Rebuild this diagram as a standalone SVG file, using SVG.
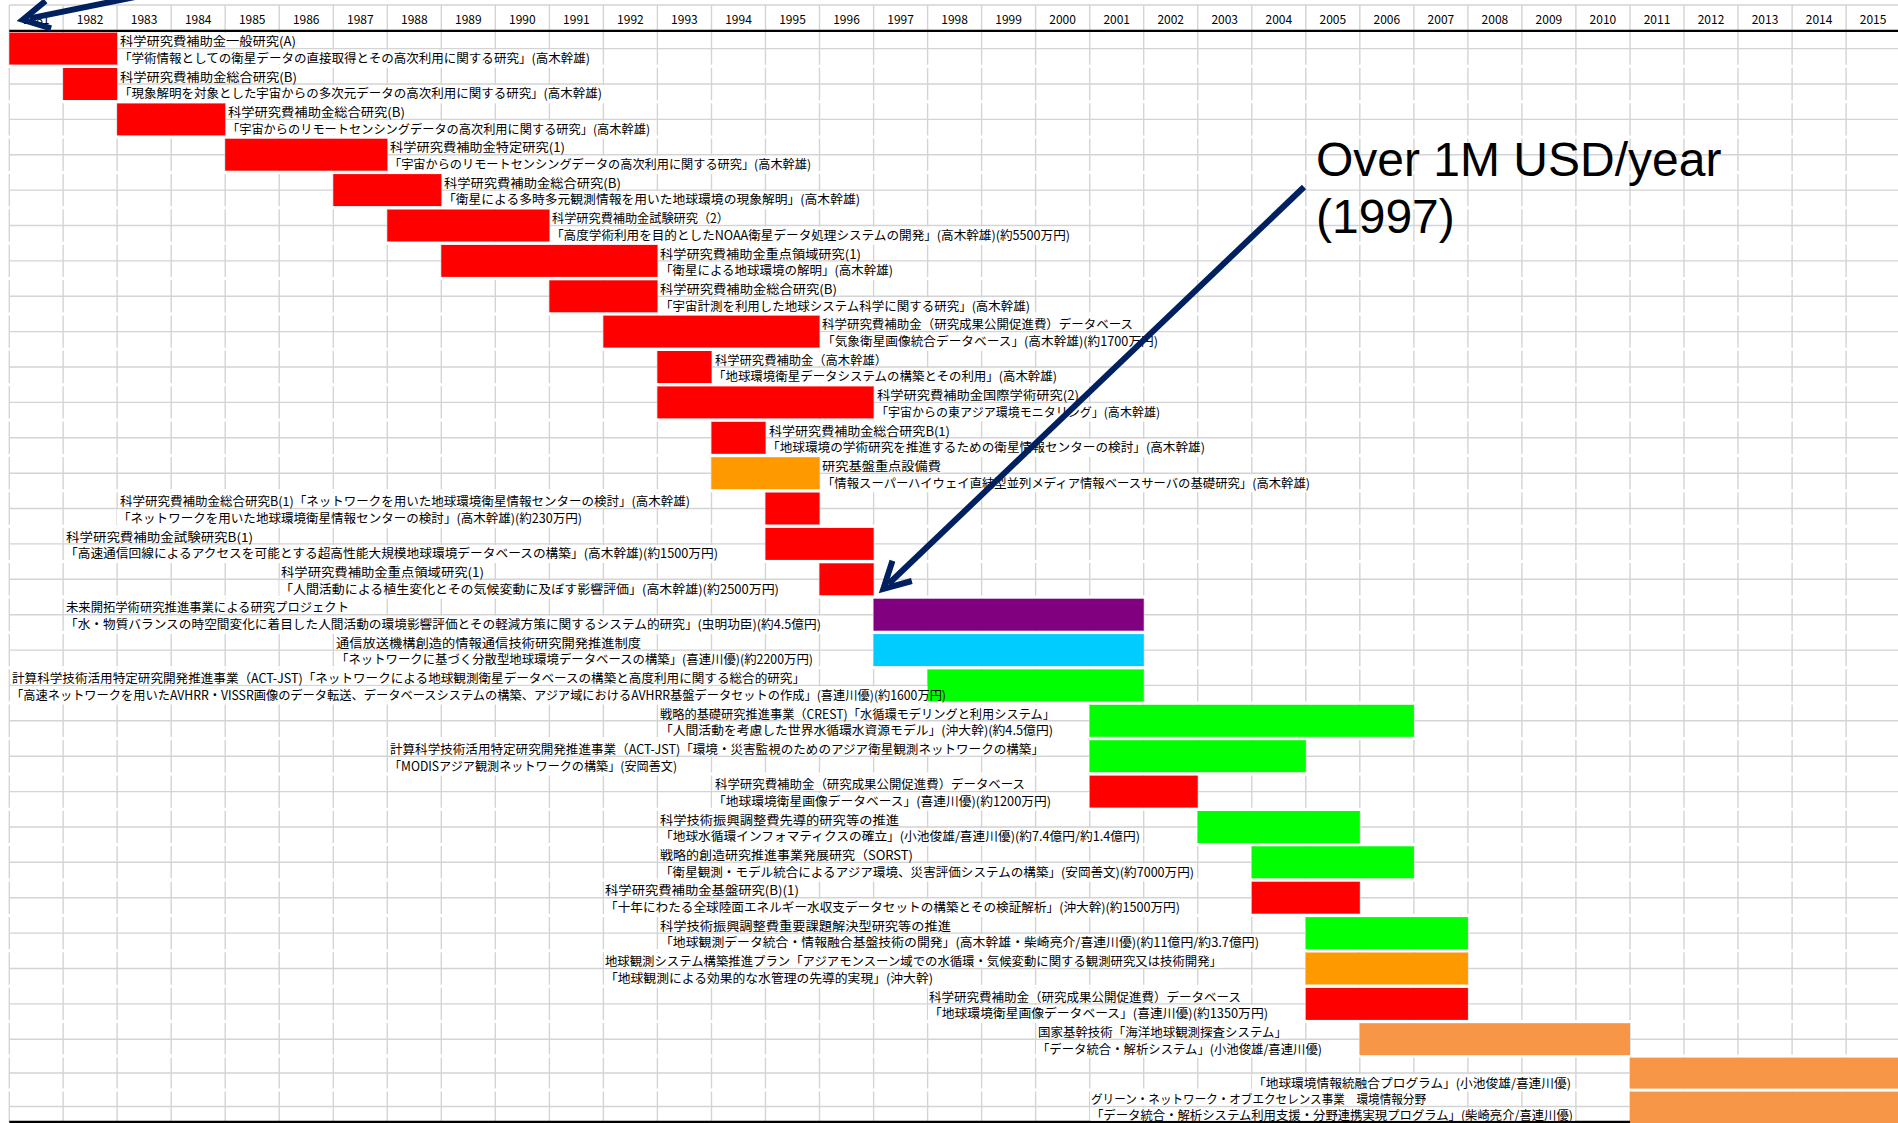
<svg xmlns="http://www.w3.org/2000/svg" width="1898" height="1123" viewBox="0 0 1898 1123">
  <defs>
    <style>
      .grid { stroke: #d4d4d4; stroke-width: 1.4; fill: none; }
      .gap { stroke: #ffffff; stroke-width: 3; fill: none; }
      .rule { stroke: #000000; stroke-width: 2.4; fill: none; }
      .yr { font-family: "Noto Sans CJK JP", "Noto Sans", sans-serif; font-size: 12px; text-anchor: middle; fill: #000; }
      .t { font-family: "Noto Sans CJK JP", "Noto Sans", sans-serif; font-size: 12.5px; fill: #000; }
      .bg { fill: #ffffff; }
      .red { fill: #ff0000; }
      .org { fill: #ff9900; }
      .grn { fill: #00ff00; }
      .pur { fill: #800080; }
      .cyn { fill: #00ccff; }
      .lor { fill: #f79646; }
      .note { font-family: "Liberation Sans", Arial, sans-serif; font-size: 48px; fill: #000; }
      .arrow { stroke: #002060; stroke-width: 6; fill: none; marker-end: url(#head); }
    </style>
    <marker id="head" viewBox="0 0 34 30" refX="23" refY="15" markerWidth="34" markerHeight="30" markerUnits="userSpaceOnUse" orient="auto" overflow="visible">
      <path d="M4,1 L30,15 L4,29" fill="none" stroke="#002060" stroke-width="6" stroke-linejoin="miter"/>
    </marker>
  </defs>

  <rect width="1898" height="1123" fill="#ffffff"/>

  <!-- spreadsheet grid -->
  <g id="grid">
    <path class="grid" d="M9.3 5V1122 M63.1 5V1122 M117.1 5V1122 M171.2 5V1122 M225.2 5V1122 M279.2 5V1122 M333.3 5V1122 M387.3 5V1122 M441.3 5V1122 M495.3 5V1122 M549.4 5V1122 M603.4 5V1122 M657.4 5V1122 M711.5 5V1122 M765.5 5V1122 M819.5 5V1122 M873.6 5V1122 M927.6 5V1122 M981.6 5V1122 M1035.6 5V1122 M1089.7 5V1122 M1143.7 5V1122 M1197.7 5V1122 M1251.8 5V1122 M1305.8 5V1122 M1359.8 5V1122 M1413.9 5V1122 M1467.9 5V1122 M1521.9 5V1122 M1575.9 5V1122 M1630 5V1122 M1684 5V1122 M1738 5V1122 M1792.1 5V1122 M1846.1 5V1122"/>
    <path class="grid" d="M9.3 5H1898 M9.3 48.6H1898 M9.3 84H1898 M9.3 119.4H1898 M9.3 154.7H1898 M9.3 190.1H1898 M9.3 225.5H1898 M9.3 260.9H1898 M9.3 296.3H1898 M9.3 331.6H1898 M9.3 367H1898 M9.3 402.4H1898 M9.3 437.8H1898 M9.3 473.2H1898 M9.3 508.5H1898 M9.3 543.9H1898 M9.3 579.3H1898 M9.3 614.7H1898 M9.3 650.1H1898 M9.3 685.4H1898 M9.3 720.8H1898 M9.3 756.2H1898 M9.3 791.6H1898 M9.3 827H1898 M9.3 862.3H1898 M9.3 897.7H1898 M9.3 933.1H1898 M9.3 968.5H1898 M9.3 1003.9H1898 M9.3 1039.2H1898 M9.3 1073H1898 M9.3 1106.5H1898"/>
    <path class="gap" d="M8 66.3H1898 M8 101.7H1898 M8 137H1898 M8 172.4H1898 M8 207.8H1898 M8 243.2H1898 M8 278.6H1898 M8 313.9H1898 M8 349.3H1898 M8 384.7H1898 M8 420.1H1898 M8 455.5H1898 M8 490.8H1898 M8 526.2H1898 M8 561.6H1898 M8 597H1898 M8 632.4H1898 M8 667.7H1898 M8 703.1H1898 M8 738.5H1898 M8 773.9H1898 M8 809.3H1898 M8 844.6H1898 M8 880H1898 M8 915.4H1898 M8 950.8H1898 M8 986.2H1898 M8 1021.5H1898 M8 1056H1898 M8 1090H1898"/>
    <path class="rule" d="M9.3 30.9H1898 M9.3 1122H1898"/>
  </g>

  <!-- year header -->
  <g id="years">
    <text class="yr" x="36.2" y="24">1981</text>
    <text class="yr" x="90.1" y="24">1982</text>
    <text class="yr" x="144.1" y="24">1983</text>
    <text class="yr" x="198.2" y="24">1984</text>
    <text class="yr" x="252.2" y="24">1985</text>
    <text class="yr" x="306.2" y="24">1986</text>
    <text class="yr" x="360.3" y="24">1987</text>
    <text class="yr" x="414.3" y="24">1988</text>
    <text class="yr" x="468.3" y="24">1989</text>
    <text class="yr" x="522.3" y="24">1990</text>
    <text class="yr" x="576.4" y="24">1991</text>
    <text class="yr" x="630.4" y="24">1992</text>
    <text class="yr" x="684.4" y="24">1993</text>
    <text class="yr" x="738.5" y="24">1994</text>
    <text class="yr" x="792.5" y="24">1995</text>
    <text class="yr" x="846.5" y="24">1996</text>
    <text class="yr" x="900.6" y="24">1997</text>
    <text class="yr" x="954.6" y="24">1998</text>
    <text class="yr" x="1008.6" y="24">1999</text>
    <text class="yr" x="1062.6" y="24">2000</text>
    <text class="yr" x="1116.7" y="24">2001</text>
    <text class="yr" x="1170.7" y="24">2002</text>
    <text class="yr" x="1224.7" y="24">2003</text>
    <text class="yr" x="1278.8" y="24">2004</text>
    <text class="yr" x="1332.8" y="24">2005</text>
    <text class="yr" x="1386.8" y="24">2006</text>
    <text class="yr" x="1440.9" y="24">2007</text>
    <text class="yr" x="1494.9" y="24">2008</text>
    <text class="yr" x="1548.9" y="24">2009</text>
    <text class="yr" x="1602.9" y="24">2010</text>
    <text class="yr" x="1657" y="24">2011</text>
    <text class="yr" x="1711" y="24">2012</text>
    <text class="yr" x="1765" y="24">2013</text>
    <text class="yr" x="1819.1" y="24">2014</text>
    <text class="yr" x="1873.1" y="24">2015</text>
  </g>

  <!-- projects: one row pair per grant -->
  <g id="g00">
    <rect class="bg" x="119" y="33.1" width="179" height="14.6"/>
    <rect class="bg" x="118" y="49.7" width="474" height="14.6"/>
    <rect class="red" x="9.3" y="32.6" width="107.8" height="32"/>
    <text class="t" x="120" y="46.3" textLength="176" lengthAdjust="spacingAndGlyphs">科学研究費補助金一般研究(A)</text>
    <text class="t" x="119" y="62.9" textLength="471" lengthAdjust="spacingAndGlyphs">「学術情報としての衛星データの直接取得とその高次利用に関する研究」(高木幹雄)</text>
  </g>
  <g id="g01">
    <rect class="bg" x="119" y="68.5" width="180" height="14.6"/>
    <rect class="bg" x="118" y="85.1" width="486" height="14.6"/>
    <rect class="red" x="63.1" y="68" width="54" height="32"/>
    <text class="t" x="120" y="81.7" textLength="177" lengthAdjust="spacingAndGlyphs">科学研究費補助金総合研究(B)</text>
    <text class="t" x="119" y="98.3" textLength="483" lengthAdjust="spacingAndGlyphs">「現象解明を対象とした宇宙からの多次元データの高次利用に関する研究」(高木幹雄)</text>
  </g>
  <g id="g02">
    <rect class="bg" x="227" y="103.9" width="180" height="14.6"/>
    <rect class="bg" x="226" y="120.5" width="426" height="14.6"/>
    <rect class="red" x="117.1" y="103.4" width="108.1" height="32"/>
    <text class="t" x="228" y="117.1" textLength="177" lengthAdjust="spacingAndGlyphs">科学研究費補助金総合研究(B)</text>
    <text class="t" x="227" y="133.7" textLength="423" lengthAdjust="spacingAndGlyphs">「宇宙からのリモートセンシングデータの高次利用に関する研究」(高木幹雄)</text>
  </g>
  <g id="g03">
    <rect class="bg" x="389" y="139.2" width="178" height="14.6"/>
    <rect class="bg" x="388" y="155.8" width="425" height="14.6"/>
    <rect class="red" x="225.2" y="138.7" width="162.1" height="32"/>
    <text class="t" x="390" y="152.4" textLength="175" lengthAdjust="spacingAndGlyphs">科学研究費補助金特定研究(1)</text>
    <text class="t" x="389" y="169" textLength="422" lengthAdjust="spacingAndGlyphs">「宇宙からのリモートセンシングデータの高次利用に関する研究」(高木幹雄)</text>
  </g>
  <g id="g04">
    <rect class="bg" x="443" y="174.6" width="180" height="14.6"/>
    <rect class="bg" x="442" y="191.2" width="420" height="14.6"/>
    <rect class="red" x="333.3" y="174.1" width="108" height="32"/>
    <text class="t" x="444" y="187.8" textLength="177" lengthAdjust="spacingAndGlyphs">科学研究費補助金総合研究(B)</text>
    <text class="t" x="443" y="204.4" textLength="417" lengthAdjust="spacingAndGlyphs">「衛星による多時多元観測情報を用いた地球環境の現象解明」(高木幹雄)</text>
  </g>
  <g id="g05">
    <rect class="bg" x="551" y="210" width="180" height="14.6"/>
    <rect class="bg" x="550" y="226.6" width="522" height="14.6"/>
    <rect class="red" x="387.3" y="209.5" width="162.1" height="32"/>
    <text class="t" x="552" y="223.2" textLength="177" lengthAdjust="spacingAndGlyphs">科学研究費補助金試験研究（2）</text>
    <text class="t" x="551" y="239.8" textLength="519" lengthAdjust="spacingAndGlyphs">「高度学術利用を目的としたNOAA衛星データ処理システムの開発」(高木幹雄)(約5500万円)</text>
  </g>
  <g id="g06">
    <rect class="bg" x="659" y="245.4" width="204" height="14.6"/>
    <rect class="bg" x="659" y="262" width="236" height="14.6"/>
    <rect class="red" x="441.3" y="244.9" width="216.1" height="32"/>
    <text class="t" x="660" y="258.6" textLength="201" lengthAdjust="spacingAndGlyphs">科学研究費補助金重点領域研究(1)</text>
    <text class="t" x="660" y="275.2" textLength="233" lengthAdjust="spacingAndGlyphs">「衛星による地球環境の解明」(高木幹雄)</text>
  </g>
  <g id="g07">
    <rect class="bg" x="659" y="280.8" width="180" height="14.6"/>
    <rect class="bg" x="659" y="297.4" width="373" height="14.6"/>
    <rect class="red" x="549.4" y="280.3" width="108" height="32"/>
    <text class="t" x="660" y="294" textLength="177" lengthAdjust="spacingAndGlyphs">科学研究費補助金総合研究(B)</text>
    <text class="t" x="660" y="310.6" textLength="370" lengthAdjust="spacingAndGlyphs">「宇宙計測を利用した地球システム科学に関する研究」(高木幹雄)</text>
  </g>
  <g id="g08">
    <rect class="bg" x="821" y="316.1" width="314" height="14.6"/>
    <rect class="bg" x="821" y="332.7" width="339" height="14.6"/>
    <rect class="red" x="603.4" y="315.6" width="216.1" height="32"/>
    <text class="t" x="822" y="329.3" textLength="311" lengthAdjust="spacingAndGlyphs">科学研究費補助金（研究成果公開促進費）データベース</text>
    <text class="t" x="822" y="345.9" textLength="336" lengthAdjust="spacingAndGlyphs">「気象衛星画像統合データベース」(高木幹雄)(約1700万円)</text>
  </g>
  <g id="g09">
    <rect class="bg" x="714" y="351.5" width="175" height="14.6"/>
    <rect class="bg" x="712" y="368.1" width="347" height="14.6"/>
    <rect class="red" x="657.4" y="351" width="54.1" height="32"/>
    <text class="t" x="715" y="364.7" textLength="172" lengthAdjust="spacingAndGlyphs">科学研究費補助金（高木幹雄）</text>
    <text class="t" x="713" y="381.3" textLength="344" lengthAdjust="spacingAndGlyphs">「地球環境衛星データシステムの構築とその利用」(高木幹雄)</text>
  </g>
  <g id="g10">
    <rect class="bg" x="876" y="386.9" width="205" height="14.6"/>
    <rect class="bg" x="875" y="403.5" width="287" height="14.6"/>
    <rect class="red" x="657.4" y="386.4" width="216.2" height="32"/>
    <text class="t" x="877" y="400.1" textLength="202" lengthAdjust="spacingAndGlyphs">科学研究費補助金国際学術研究(2)</text>
    <text class="t" x="876" y="416.7" textLength="284" lengthAdjust="spacingAndGlyphs">「宇宙からの東アジア環境モニタリング」(高木幹雄)</text>
  </g>
  <g id="g11">
    <rect class="bg" x="768" y="422.3" width="184" height="14.6"/>
    <rect class="bg" x="766" y="438.9" width="441" height="14.6"/>
    <rect class="red" x="711.5" y="421.8" width="54" height="32"/>
    <text class="t" x="769" y="435.5" textLength="181" lengthAdjust="spacingAndGlyphs">科学研究費補助金総合研究B(1)</text>
    <text class="t" x="767" y="452.1" textLength="438" lengthAdjust="spacingAndGlyphs">「地球環境の学術研究を推進するための衛星情報センターの検討」(高木幹雄)</text>
  </g>
  <g id="g12">
    <rect class="bg" x="821" y="457.7" width="122" height="14.6"/>
    <rect class="bg" x="821" y="474.3" width="491" height="14.6"/>
    <rect class="org" x="711.5" y="457.2" width="108" height="32"/>
    <text class="t" x="822" y="470.9" textLength="119" lengthAdjust="spacingAndGlyphs">研究基盤重点設備費</text>
    <text class="t" x="822" y="487.5" textLength="488" lengthAdjust="spacingAndGlyphs">「情報スーパーハイウェイ直結型並列メディア情報ベースサーバの基礎研究」(高木幹雄)</text>
  </g>
  <g id="g13">
    <rect class="bg" x="119" y="493" width="573" height="14.6"/>
    <rect class="bg" x="117" y="509.6" width="467" height="14.6"/>
    <rect class="red" x="765.5" y="492.5" width="54" height="32"/>
    <text class="t" x="120" y="506.2" textLength="570" lengthAdjust="spacingAndGlyphs">科学研究費補助金総合研究B(1)「ネットワークを用いた地球環境衛星情報センターの検討」(高木幹雄)</text>
    <text class="t" x="118" y="522.8" textLength="464" lengthAdjust="spacingAndGlyphs">「ネットワークを用いた地球環境衛星情報センターの検討」(高木幹雄)(約230万円)</text>
  </g>
  <g id="g14">
    <rect class="bg" x="65" y="528.4" width="190" height="14.6"/>
    <rect class="bg" x="64" y="545" width="656" height="14.6"/>
    <rect class="red" x="765.5" y="527.9" width="108.1" height="32"/>
    <text class="t" x="66" y="541.6" textLength="187" lengthAdjust="spacingAndGlyphs">科学研究費補助金試験研究B(1)</text>
    <text class="t" x="65" y="558.2" textLength="653" lengthAdjust="spacingAndGlyphs">「高速通信回線によるアクセスを可能とする超高性能大規模地球環境データベースの構築」(高木幹雄)(約1500万円)</text>
  </g>
  <g id="g15">
    <rect class="bg" x="280" y="563.8" width="206" height="14.6"/>
    <rect class="bg" x="279.5" y="580.4" width="501" height="14.6"/>
    <rect class="red" x="819.5" y="563.3" width="54.1" height="32"/>
    <text class="t" x="281" y="577" textLength="203" lengthAdjust="spacingAndGlyphs">科学研究費補助金重点領域研究(1)</text>
    <text class="t" x="280" y="593.6" textLength="499" lengthAdjust="spacingAndGlyphs">「人間活動による植生変化とその気候変動に及ぼす影響評価」(高木幹雄)(約2500万円)</text>
  </g>
  <g id="g16">
    <rect class="bg" x="65" y="599.2" width="286" height="14.6"/>
    <rect class="bg" x="64" y="615.8" width="759" height="14.6"/>
    <rect class="pur" x="873.6" y="598.7" width="270.1" height="32"/>
    <text class="t" x="66" y="612.4" textLength="283" lengthAdjust="spacingAndGlyphs">未来開拓学術研究推進事業による研究プロジェクト</text>
    <text class="t" x="65" y="629" textLength="756" lengthAdjust="spacingAndGlyphs">「水・物質バランスの時空間変化に着目した人間活動の環境影響評価とその軽減方策に関するシステム的研究」(虫明功臣)(約4.5億円)</text>
  </g>
  <g id="g17">
    <rect class="bg" x="335" y="634.6" width="308" height="14.6"/>
    <rect class="bg" x="335" y="651.2" width="480" height="14.6"/>
    <rect class="cyn" x="873.6" y="634.1" width="270.1" height="32"/>
    <text class="t" x="336" y="647.8" textLength="305" lengthAdjust="spacingAndGlyphs">通信放送機構創造的情報通信技術研究開発推進制度</text>
    <text class="t" x="336" y="664.4" textLength="477" lengthAdjust="spacingAndGlyphs">「ネットワークに基づく分散型地球環境データベースの構築」(喜連川優)(約2200万円)</text>
  </g>
  <g id="g18">
    <rect class="bg" x="11" y="669.9" width="796" height="14.6"/>
    <rect class="bg" x="10.5" y="686.5" width="937" height="14.6"/>
    <rect class="grn" x="927.6" y="669.4" width="216.1" height="32"/>
    <text class="t" x="12" y="683.1" textLength="793" lengthAdjust="spacingAndGlyphs">計算科学技術活用特定研究開発推進事業（ACT-JST)「ネットワークによる地球観測衛星データベースの構築と高度利用に関する総合的研究」</text>
    <text class="t" x="11" y="699.7" textLength="935" lengthAdjust="spacingAndGlyphs">「高速ネットワークを用いたAVHRR・VISSR画像のデータ転送、データベースシステムの構築、アジア域におけるAVHRR基盤データセットの作成」(喜連川優)(約1600万円)</text>
  </g>
  <g id="g19">
    <rect class="bg" x="659" y="705.3" width="398" height="14.6"/>
    <rect class="bg" x="659" y="721.9" width="396" height="14.6"/>
    <rect class="grn" x="1089.7" y="704.8" width="324.2" height="32"/>
    <text class="t" x="660" y="718.5" textLength="395" lengthAdjust="spacingAndGlyphs">戦略的基礎研究推進事業（CREST)「水循環モデリングと利用システム」</text>
    <text class="t" x="660" y="735.1" textLength="393" lengthAdjust="spacingAndGlyphs">「人間活動を考慮した世界水循環水資源モデル」(沖大幹)(約4.5億円)</text>
  </g>
  <g id="g20">
    <rect class="bg" x="389" y="740.7" width="657" height="14.6"/>
    <rect class="bg" x="388" y="757.3" width="291" height="14.6"/>
    <rect class="grn" x="1089.7" y="740.2" width="216.1" height="32"/>
    <text class="t" x="390" y="753.9" textLength="654" lengthAdjust="spacingAndGlyphs">計算科学技術活用特定研究開発推進事業（ACT-JST)「環境・災害監視のためのアジア衛星観測ネットワークの構築」</text>
    <text class="t" x="389" y="770.5" textLength="288" lengthAdjust="spacingAndGlyphs">「MODISアジア観測ネットワークの構築」(安岡善文)</text>
  </g>
  <g id="g21">
    <rect class="bg" x="714" y="776.1" width="313" height="14.6"/>
    <rect class="bg" x="712" y="792.7" width="341" height="14.6"/>
    <rect class="red" x="1089.7" y="775.6" width="108" height="32"/>
    <text class="t" x="715" y="789.3" textLength="310" lengthAdjust="spacingAndGlyphs">科学研究費補助金（研究成果公開促進費）データベース</text>
    <text class="t" x="713" y="805.9" textLength="338" lengthAdjust="spacingAndGlyphs">「地球環境衛星画像データベース」(喜連川優)(約1200万円)</text>
  </g>
  <g id="g22">
    <rect class="bg" x="659" y="811.5" width="242" height="14.6"/>
    <rect class="bg" x="659" y="828.1" width="483" height="14.6"/>
    <rect class="grn" x="1197.7" y="811" width="162.1" height="32"/>
    <text class="t" x="660" y="824.7" textLength="239" lengthAdjust="spacingAndGlyphs">科学技術振興調整費先導的研究等の推進</text>
    <text class="t" x="660" y="841.3" textLength="480" lengthAdjust="spacingAndGlyphs">「地球水循環インフォマティクスの確立」(小池俊雄/喜連川優)(約7.4億円/約1.4億円)</text>
  </g>
  <g id="g23">
    <rect class="bg" x="659" y="846.8" width="256" height="14.6"/>
    <rect class="bg" x="659" y="863.4" width="537" height="14.6"/>
    <rect class="grn" x="1251.8" y="846.3" width="162.1" height="32"/>
    <text class="t" x="660" y="860" textLength="253" lengthAdjust="spacingAndGlyphs">戦略的創造研究推進事業発展研究（SORST)</text>
    <text class="t" x="660" y="876.6" textLength="534" lengthAdjust="spacingAndGlyphs">「衛星観測・モデル統合によるアジア環境、災害評価システムの構築」(安岡善文)(約7000万円)</text>
  </g>
  <g id="g24">
    <rect class="bg" x="604" y="882.2" width="197" height="14.6"/>
    <rect class="bg" x="604" y="898.8" width="578" height="14.6"/>
    <rect class="red" x="1251.8" y="881.7" width="108" height="32"/>
    <text class="t" x="605" y="895.4" textLength="194" lengthAdjust="spacingAndGlyphs">科学研究費補助金基盤研究(B)(1)</text>
    <text class="t" x="605" y="912" textLength="575" lengthAdjust="spacingAndGlyphs">「十年にわたる全球陸面エネルギー水収支データセットの構築とその検証解析」(沖大幹)(約1500万円)</text>
  </g>
  <g id="g25">
    <rect class="bg" x="659" y="917.6" width="294" height="14.6"/>
    <rect class="bg" x="659" y="934.2" width="602" height="14.6"/>
    <rect class="grn" x="1305.8" y="917.1" width="162.1" height="32"/>
    <text class="t" x="660" y="930.8" textLength="291" lengthAdjust="spacingAndGlyphs">科学技術振興調整費重要課題解決型研究等の推進</text>
    <text class="t" x="660" y="947.4" textLength="599" lengthAdjust="spacingAndGlyphs">「地球観測データ統合・情報融合基盤技術の開発」(高木幹雄・柴崎亮介/喜連川優)(約11億円/約3.7億円)</text>
  </g>
  <g id="g26">
    <rect class="bg" x="604" y="953" width="620" height="14.6"/>
    <rect class="bg" x="604" y="969.6" width="331" height="14.6"/>
    <rect class="org" x="1305.8" y="952.5" width="162.1" height="32"/>
    <text class="t" x="605" y="966.2" textLength="617" lengthAdjust="spacingAndGlyphs">地球観測システム構築推進プラン「アジアモンスーン域での水循環・気候変動に関する観測研究又は技術開発」</text>
    <text class="t" x="605" y="982.8" textLength="328" lengthAdjust="spacingAndGlyphs">「地球観測による効果的な水管理の先導的実現」(沖大幹)</text>
  </g>
  <g id="g27">
    <rect class="bg" x="928" y="988.4" width="315" height="14.6"/>
    <rect class="bg" x="928" y="1005" width="342" height="14.6"/>
    <rect class="red" x="1305.8" y="987.9" width="162.1" height="32"/>
    <text class="t" x="929" y="1001.6" textLength="312" lengthAdjust="spacingAndGlyphs">科学研究費補助金（研究成果公開促進費）データベース</text>
    <text class="t" x="929" y="1018.2" textLength="339" lengthAdjust="spacingAndGlyphs">「地球環境衛星画像データベース」(喜連川優)(約1350万円)</text>
  </g>
  <g id="g28">
    <rect class="bg" x="1037" y="1023.7" width="252" height="14.6"/>
    <rect class="bg" x="1036" y="1040.3" width="288" height="14.6"/>
    <rect class="lor" x="1359.8" y="1023.2" width="270.2" height="32"/>
    <text class="t" x="1038" y="1036.9" textLength="249" lengthAdjust="spacingAndGlyphs">国家基幹技術「海洋地球観測探査システム」</text>
    <text class="t" x="1037" y="1053.5" textLength="285" lengthAdjust="spacingAndGlyphs">「データ統合・解析システム」(小池俊雄/喜連川優)</text>
  </g>
  <g id="g29">
    <rect class="bg" x="1252" y="1074.2" width="321" height="13.5"/>
    <rect class="lor" x="1630" y="1057.6" width="268" height="31"/>
    <text class="t" x="1253" y="1087.5" textLength="318" lengthAdjust="spacingAndGlyphs">「地球環境情報統融合プログラム」(小池俊雄/喜連川優)</text>
  </g>
  <g id="g30">
    <rect class="bg" x="1090" y="1092" width="338" height="13.5"/>
    <rect class="bg" x="1090" y="1107.7" width="485" height="13"/>
    <rect class="lor" x="1630" y="1091.6" width="268" height="31.4"/>
    <text class="t" x="1091" y="1104" textLength="335" lengthAdjust="spacingAndGlyphs">グリーン・ネットワーク・オブエクセレンス事業　環境情報分野</text>
    <text class="t" x="1091" y="1120" textLength="482" lengthAdjust="spacingAndGlyphs">「データ統合・解析システム利用支援・分野連携実現プログラム」(柴崎亮介/喜連川優)</text>
  </g>

  <!-- callout text -->
  <g id="callout">
    <text class="note" x="1316" y="175.5">Over 1M USD/year</text>
    <text class="note" x="1316" y="233">(1997)</text>
  </g>

  <!-- connectors -->
  <g id="connectors">
    <path class="arrow" d="M1304 187 L888.4 584"/>
    <path class="arrow" d="M140 -4 L29.7 18.4"/>
  </g>
</svg>
